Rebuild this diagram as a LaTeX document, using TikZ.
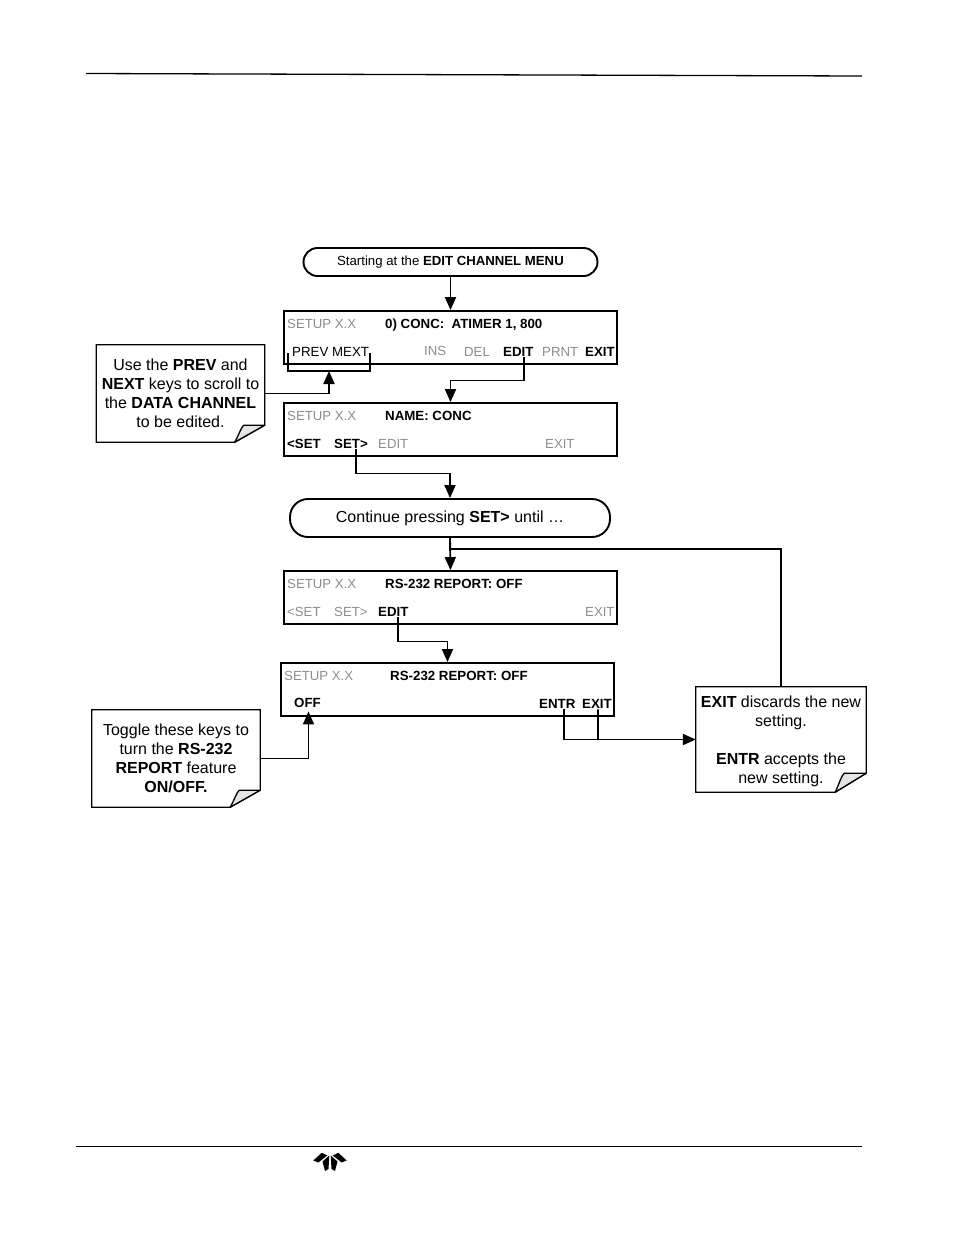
\documentclass[tikz,border=0pt]{standalone}
\usepackage{fontspec}
\setmainfont{Liberation Sans}
\usetikzlibrary{arrows.meta}
\definecolor{dimkey}{gray}{0.55}
\tikzset{
  screenbox/.style={draw,line width=1.9pt,minimum width=333pt,minimum height=53pt,inner sep=0pt},
  startbox/.style={draw,line width=1.9pt,rounded corners=14pt,inner sep=0pt},
  keyoff/.style={anchor=west,inner sep=1pt,text height=10.5pt,text depth=0pt,text=dimkey,font=\fontsize{13.2}{15}\selectfont},
  keyon/.style={anchor=west,inner sep=1pt,text height=10.5pt,text depth=0pt,font=\fontsize{13.3}{15}\selectfont\bfseries},
  keyplain/.style={anchor=west,inner sep=1pt,text height=10.5pt,text depth=0pt,font=\fontsize{13.3}{15}\selectfont},
  notetext/.style={align=center,inner sep=0pt,font=\fontsize{16}{19}\selectfont},
  flowline/.style={line width=1.9pt},
  flowarrow/.style={line width=1.9pt,-{Triangle[length=13pt,width=11pt]}},
  foldfill/.style={draw,line width=1.3pt,fill=gray!20,line join=round},
  petal/.style={fill=black,draw=none}
}
\newcommand{\notepage}[3]{
  \draw[line width=1.3pt] (#1.north west) -- (#1.north east) -- ([yshift=#3]#1.south east)
    -- ([xshift=-#2]#1.south east) -- (#1.south west) -- cycle;
  \draw[foldfill] ([xshift=-#2]#1.south east) .. controls ([xshift=-#2+5pt,yshift=#3-8pt]#1.south east) and ([xshift=-#2+6pt,yshift=#3-3pt]#1.south east)
    .. ([xshift=-#2+9pt,yshift=#3]#1.south east) -- ([yshift=#3]#1.south east) -- cycle;
}
\begin{document}
\begin{tikzpicture}[x=1pt,y=-1pt]
\useasboundingbox (0,0) rectangle (954,1235);
% page rules
\coordinate (ruletopl) at (86,73.5);
\coordinate (ruletopr) at (862,76);
\coordinate (rulebotl) at (76,1146.5);
\coordinate (rulebotr) at (862,1146.5);
\draw[line width=1.3pt] (ruletopl) -- (ruletopr);
\draw[line width=0.9pt] (rulebotl) -- (rulebotr);
% logo
\fill[petal] (313.3,1160.5) -- (321.7,1152.8) -- (327.3,1155.5) -- (318.3,1162.5) -- cycle;
\fill[petal] (329.3,1155.5) -- (322.5,1161.5) -- (325,1171) -- (328.5,1169) -- cycle;
\fill[petal] (346.7,1160.5) -- (338.3,1152.8) -- (332.7,1155.5) -- (341.7,1162.5) -- cycle;
\fill[petal] (330.7,1155.5) -- (337.5,1161.5) -- (335,1171) -- (331.5,1169) -- cycle;
% start and continue
\node[startbox,minimum width=294pt,minimum height=28pt,font=\fontsize{13.2}{15}\selectfont] (startmenu) at (450.5,262) {\raisebox{-1.5pt}{Starting at the \textbf{EDIT CHANNEL MENU}}};
\node[startbox,rounded corners=18pt,minimum width=320pt,minimum height=38pt,font=\fontsize{16}{18}\selectfont] (contpress) at (450,518) {Continue pressing \textbf{SET>} until …};
% screens
\node[screenbox] (screena) at (450.5,337.5) {};
\node[screenbox] (screenb) at (450.5,429.5) {};
\node[screenbox] (screenc) at (450.5,597.5) {};
\node[screenbox] (screend) at (447.5,689.5) {};
% screen a
\node[keyoff] (setupa) at (286,323) {SETUP X.X};
\node[keyon] (titlea) at (384,323) {0) CONC:\ \ ATIMER 1, 800};
\node[keyplain] (prevnext) at (291,351) {PREV MEXT};
\node[keyoff] (insa) at (423,350) {INS};
\node[keyoff] (dela) at (463,351) {DEL};
\node[keyon] (edita) at (502,351) {EDIT};
\node[keyoff] (prnta) at (541,351) {PRNT};
\node[keyon] (exita) at (584,351) {EXIT};
% screen b
\node[keyoff] (setupb) at (286,415) {SETUP X.X};
\node[keyon] (titleb) at (384,415) {NAME: CONC};
\node[keyon] (lsetb) at (286,443) {<SET};
\node[keyon] (rsetb) at (333,443) {SET>};
\node[keyoff] (editb) at (377,443) {EDIT};
\node[keyoff] (exitb) at (544,443) {EXIT};
% screen c
\node[keyoff] (setupc) at (286,583) {SETUP X.X};
\node[keyon] (titlec) at (384,583) {RS-232 REPORT: OFF};
\node[keyoff] (lsetc) at (286,611) {<SET};
\node[keyoff] (rsetc) at (333,611) {SET>};
\node[keyon] (editc) at (377,611) {EDIT};
\node[keyoff] (exitc) at (584,611) {EXIT};
% screen d
\node[keyoff] (setupd) at (283,675) {SETUP X.X};
\node[keyon] (titled) at (389,675) {RS-232 REPORT: OFF};
\node[keyon] (offd) at (293,702) {OFF};
\node[keyon] (entrd) at (538,703) {ENTR};
\node[keyon] (exitd) at (581,703) {EXIT};
% notes
\node[notetext,minimum width=168pt,minimum height=97pt] (notea) at (180.5,393.5) {Use the \textbf{PREV} and\\\textbf{NEXT} keys to scroll to\\the \textbf{DATA CHANNEL}\\to be edited.};
\node[notetext,minimum width=168pt,minimum height=97pt] (noteb) at (176,758.5) {Toggle these keys to\\turn the \textbf{RS-232}\\\textbf{REPORT} feature\\\textbf{ON/OFF.}};
\node[notetext,minimum width=170pt,minimum height=105pt] (notec) at (781,739.5) {\rule{0pt}{14.5pt}\textbf{EXIT} discards the new\\setting.\\[19pt]\textbf{ENTR} accepts the\\new setting.};
\notepage{notea}{30pt}{17pt}
\notepage{noteb}{30pt}{17pt}
\notepage{notec}{31pt}{19pt}
% bracket under prev and next
\coordinate (bracketl) at (288,353);
\coordinate (bracketr) at (370,353);
\coordinate (bracketm) at (329,371);
\draw[flowline] (bracketl) |- (bracketm) -| (bracketr);
% connectors
\draw[flowarrow] (startmenu) -- (screena);
\draw[flowarrow] ([xshift=6pt]edita.south) -- ++(0,23) -| (screenb.north);
\draw[flowarrow] ([xshift=5pt]rsetb.south) -- ++(0,24) -| (contpress.north);
\draw[flowarrow] (contpress.south) -- (screenc.north);
\draw[flowarrow] ([xshift=5pt]editc.south) -- ++(0,24) -| (screend.north);
\coordinate (loopjoin) at (450,549);
\draw[flowline] (notec.north) |- (loopjoin);
\draw[flowarrow] (notea.east) -| (bracketm);
\draw[flowarrow] (noteb.east) -| ([xshift=1pt,yshift=-3pt]offd.south);
\draw[flowarrow] ([xshift=7pt]entrd.south) |- (notec.west);
\coordinate (exitjoin) at (598,740);
\draw[flowline] ([xshift=1pt]exitd.south) -- (exitjoin);
\end{tikzpicture}
\end{document}
